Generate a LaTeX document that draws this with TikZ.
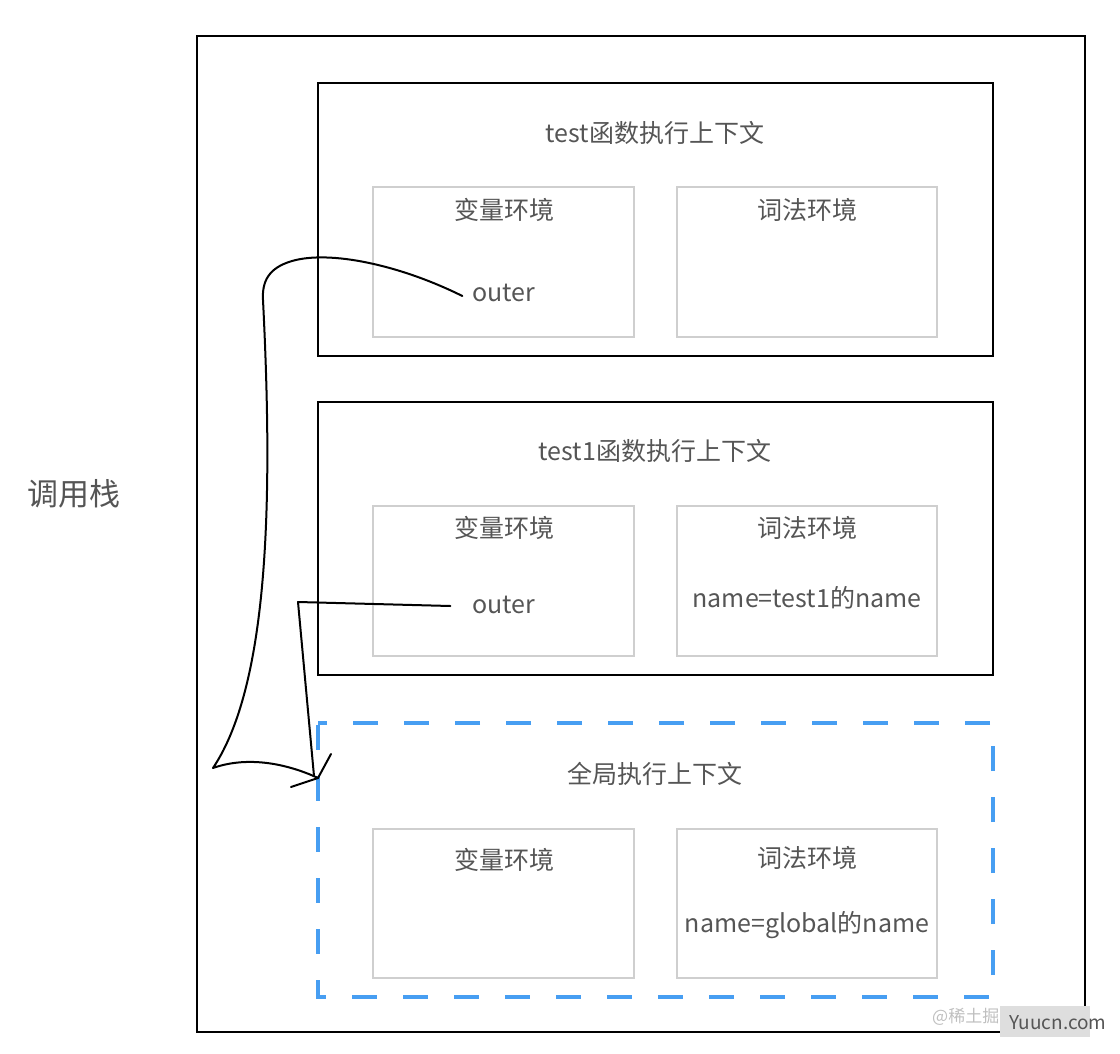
\documentclass[tikz,border=0pt]{standalone}
\usepackage{fontspec}
\setmainfont{Noto Sans CJK SC}
\usetikzlibrary{calc}
\definecolor{txt}{HTML}{555555}
\definecolor{inner}{HTML}{CFCFCF}
\definecolor{dblue}{HTML}{479EF2}
\tikzset{
  frame/.style={draw=black, line width=2pt},
  ctx/.style={draw=black, line width=2pt},
  gctx/.style={draw=dblue, line width=3.4pt, dash pattern=on 25pt off 26pt, dash phase=-2pt},
  env/.style={draw=inner, line width=1.6pt},
  lbl/.style={text=txt, font=\fontsize{25}{30}\selectfont, inner sep=0pt},
  big/.style={text=txt, font=\fontsize{31}{36}\selectfont, inner sep=0pt},
  hand/.style={draw=black, line width=2pt, line cap=round, line join=round},
}
\begin{document}
\begin{tikzpicture}[x=1pt,y=-1pt]
\useasboundingbox (0,0) rectangle (1120,1054);
% outer call stack frame
\draw[frame] (197,36) rectangle (1085,1032);
\node[big] (stack) at (74,494) {调用栈};
% test context
\draw[ctx] (318,83) rectangle (993,356);
\node[lbl] (t1) at (655,133) {test函数执行上下文};
\draw[env] (373,187) rectangle (634,337);
\draw[env] (677,187) rectangle (937,337);
\node[lbl] (t1v) at (504,210) {变量环境};
\node[lbl] (t1l) at (807,210) {词法环境};
\node[lbl] (o1) at (504,293) {outer};
% test1 context
\draw[ctx] (318,402) rectangle (993,675);
\node[lbl] (t2) at (655,451) {test1函数执行上下文};
\draw[env] (373,506) rectangle (634,656);
\draw[env] (677,506) rectangle (937,656);
\node[lbl] (t2v) at (504,528) {变量环境};
\node[lbl] (t2l) at (807,528) {词法环境};
\node[lbl] (o2) at (504,605) {outer};
\node[lbl] (n2) at (807,598) {name=test1的name};
% global context
\draw[gctx] (318,723) rectangle (993,997);
\node[lbl] (g) at (655,774) {全局执行上下文};
\draw[env] (373,829) rectangle (634,978);
\draw[env] (677,829) rectangle (937,978);
\node[lbl] (gv) at (504,860) {变量环境};
\node[lbl] (gl) at (807,858) {词法环境};
\node[lbl] (gn) at (807,925) {name=global的name};
% hand-drawn arrows
\coordinate (tip) at (318,778);
\draw[hand] ($(o1.west)+(-10,3)$) .. controls (400,265) and (330,250) .. (292,261)
  .. controls (268,268) and (262,282) .. (263,300)
  .. controls (272,480) and (272,680) .. (213,768)
  .. controls (250,755) and (290,765) .. (tip);
\draw[hand] ($(o2.west)+(-22,1)$) -- (298,602) -- (314,776);
\draw[hand] (331,754) -- (tip) -- (291,787);
% watermark
\node[text=black!25, font=\fontsize{17}{20}\selectfont, inner sep=0pt, anchor=west] (wm) at (932,1017) {@稀土掘};
\fill[black!13] (1000,1006) rectangle (1090,1037);
\node[text=txt, font=\fontsize{19}{22}\selectfont, inner sep=0pt] (yu) at (1058,1023) {Yuucn.com};
\end{tikzpicture}
\end{document}
